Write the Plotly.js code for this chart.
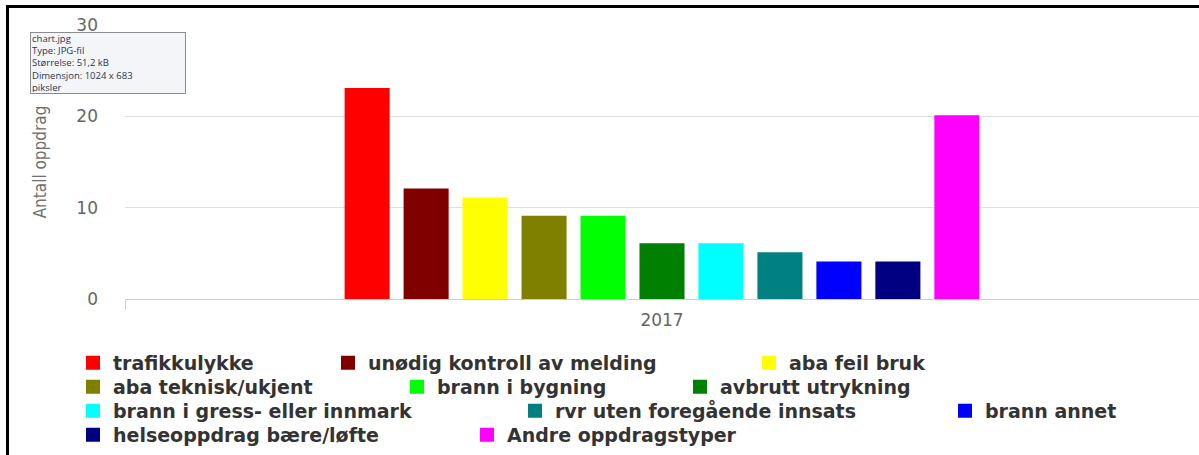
<!DOCTYPE html>
<html>
<head>
<meta charset="utf-8">
<script src="https://cdn.plot.ly/plotly-3.0.1.min.js"></script>
<style>
  html, body { margin: 0; padding: 0; background: #fff; }
  #wrap { position: relative; width: 1199px; height: 455px; overflow: hidden; }
  #chart { position: absolute; left: 0; top: 0; width: 1199px; height: 455px; }
  #frame { position: absolute; left: 6px; top: 5px; width: 1199px; height: 460px;
           border-left: 3px solid #000; border-top: 3px solid #000; pointer-events: none; }
</style>
</head>
<body>
<div id="wrap">
  <div id="chart"></div>
  <div id="frame"></div>
</div>
<script>
// ---- data ----
const categories = ["2017"];
const seriesNames = [
  "trafikkulykke",
  "unødig kontroll av melding",
  "aba feil bruk",
  "aba teknisk/ukjent",
  "brann i bygning",
  "avbrutt utrykning",
  "brann i gress- eller innmark",
  "rvr uten foregående innsats",
  "brann annet",
  "helseoppdrag bære/løfte",
  "Andre oppdragstyper"
];
const seriesValues = [23, 12, 11, 9, 9, 6, 6, 5, 4, 4, 20];
const seriesColors = ["#ff0000", "#800000", "#ffff00", "#808000", "#00ff00", "#008000",
                      "#00ffff", "#008080", "#0000ff", "#000080", "#ff00ff"];
const yTickVals = [0, 10, 20, 30];
const yTitle = "Antall oppdrag";
const tooltipLines = ["chart.jpg", "Type: JPG-fil", "Størrelse: 51,2 kB", "Dimensjon: 1024 x 683", "piksler"];

// legend placement (pixel position of each entry: left, row centre)
const legendPos = [
  [73, 363], [328, 363], [749, 363],
  [73, 387], [397, 387], [680, 387],
  [73, 411], [515, 411], [945, 411],
  [73, 435], [467, 435]
];

const W = 1199, H = 455;
const M = { l: 125, r: 0, t: 25, b: 156 };
const plotW = W - M.l - M.r, plotH = H - M.t - M.b;
const px2x = p => (p - M.l) / plotW;
const px2y = p => (H - M.b - p) / plotH;

const traces = seriesNames.map((name, i) => ({
  type: "bar",
  name: name,
  x: categories,
  y: [seriesValues[i]],
  marker: { color: seriesColors[i], line: { color: seriesColors[i], width: 2 } },
  legend: i === 0 ? "legend" : "legend" + (i + 1),
  hoverinfo: "name+y"
}));

const legendFont = { family: "DejaVu Sans, Verdana, sans-serif", size: 19, color: "#333333", weight: "bold" };

const layout = {
  width: W, height: H,
  margin: { l: M.l, r: M.r, t: M.t, b: M.b, autoexpand: false },
  paper_bgcolor: "#ffffff",
  plot_bgcolor: "#ffffff",
  barmode: "group",
  bargap: 0.396,
  bargroupgap: 0.27,
  showlegend: true,
  xaxis: {
    type: "category",
    range: [-0.5, 0.5],
    showgrid: false,
    showline: true,
    linecolor: "#c0d0e0",
    linewidth: 1,
    ticks: "outside",
    tickson: "boundaries",
    ticklen: 10,
    tickcolor: "#c0d0e0",
    ticklabelstandoff: 6,
    tickfont: { family: "DejaVu Sans, sans-serif", size: 17, color: "#666666" },
    fixedrange: true
  },
  yaxis: {
    range: [0, 30],
    tickvals: yTickVals,
    showgrid: true,
    gridcolor: "#dedede",
    zeroline: false,
    showline: false,
    ticks: "",
    ticklabelstandoff: 26,
    tickfont: { family: "DejaVu Sans, sans-serif", size: 17, color: "#666666" },
    title: {
      text: yTitle,
      standoff: 25,
      font: { family: "Liberation Sans Narrow, DejaVu Sans Condensed, Roboto, sans-serif", size: 17, color: "#707070" }
    },
    automargin: false,
    fixedrange: true
  },
  annotations: [{
    xref: "paper", yref: "paper",
    x: px2x(30), y: px2y(32),
    xanchor: "left", yanchor: "top",
    align: "left",
    valign: "middle",
    showarrow: false,
    width: 152,
    height: 58,
    text: tooltipLines.join("<br>"),
    font: { family: "Open Sans, DejaVu Sans, sans-serif", size: 9.5, color: "#2a3550" },
    bgcolor: "#f3f5f9",
    bordercolor: "#8c8c8c",
    borderwidth: 1,
    borderpad: 1
  }]
};

legendPos.forEach((p, i) => {
  const key = i === 0 ? "legend" : "legend" + (i + 1);
  layout[key] = {
    x: px2x(p[0]), y: px2y(p[1]),
    xref: "paper", yref: "paper",
    xanchor: "left", yanchor: "middle",
    orientation: "h",
    bgcolor: "rgba(0,0,0,0)",
    borderwidth: 0,
    font: legendFont,
    itemclick: false, itemdoubleclick: false
  };
});

Plotly.newPlot("chart", traces, layout, { displayModeBar: false });
</script>
</body>
</html>
